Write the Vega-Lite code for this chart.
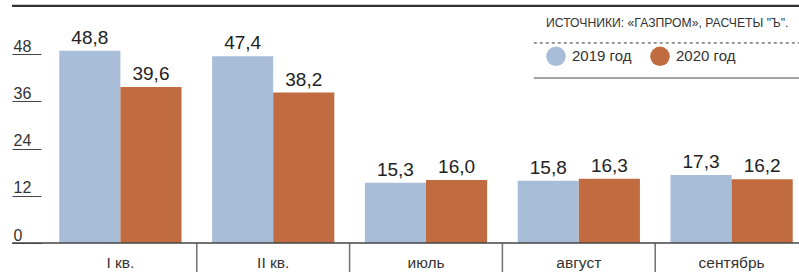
{
  "$schema": "https://vega.github.io/schema/vega-lite/v6.json",
  "width": 787,
  "height": 189,
  "autosize": "none",
  "padding": {"left": 12, "top": 54, "right": 0, "bottom": 29},
  "background": "#ffffff",
  "config": {
    "view": {"stroke": null},
    "locale": {"number": {"decimal": ",", "thousands": " ", "grouping": [3], "currency": ["", ""]}}
  },
  "datasets": {
    "bars": [
      {"period": "I кв.", "year": "2019 год", "value": 48.8},
      {"period": "I кв.", "year": "2020 год", "value": 39.6},
      {"period": "II кв.", "year": "2019 год", "value": 47.4},
      {"period": "II кв.", "year": "2020 год", "value": 38.2},
      {"period": "июль", "year": "2019 год", "value": 15.3},
      {"period": "июль", "year": "2020 год", "value": 16.0},
      {"period": "август", "year": "2019 год", "value": 15.8},
      {"period": "август", "year": "2020 год", "value": 16.3},
      {"period": "сентябрь", "year": "2019 год", "value": 17.3},
      {"period": "сентябрь", "year": "2020 год", "value": 16.2}
    ],
    "seps": [
      {"period": "II кв."},
      {"period": "июль"},
      {"period": "август"},
      {"period": "сентябрь"}
    ],
    "frame": [
      {"a": 0.663, "b": 1, "level": 50.8, "kind": "dashed"},
      {"a": 0.663, "b": 1, "level": 41.9, "kind": "solid"}
    ],
    "one": [{"n": 1}]
  },
  "resolve": {"scale": {"x": "independent"}},
  "layer": [
    {
      "layer": [
        {
          "data": {"name": "bars"},
          "mark": {"type": "bar"},
          "encoding": {
            "x": {
              "field": "period", "type": "nominal", "sort": null,
              "scale": {"domain": ["I кв.", "II кв.", "июль", "август", "сентябрь"], "range": [32, 796], "paddingInner": 0.2, "paddingOuter": 0.1},
              "axis": {
                "title": null, "domain": false, "ticks": false, "labelAngle": 0,
                "labelFont": "Liberation Sans, Arial, sans-serif",
                "labelFontSize": 15.5, "labelColor": "#333333",
                "labelBaseline": "alphabetic", "labelPadding": 24
              }
            },
            "y": {
              "field": "value", "type": "quantitative",
              "scale": {"domain": [0, 48], "nice": false},
              "axis": {
                "title": null, "domain": false, "grid": false, "values": [0, 12, 24, 36, 48],
                "offset": -29, "tickSize": 29, "tickColor": "#444444", "tickWidth": 1,
                "labelAlign": "left", "labelPadding": -1, "labelBaseline": "alphabetic", "labelOffset": -3,
                "labelFont": "Liberation Sans, Arial, sans-serif",
                "labelFontSize": 16, "labelColor": "#333333"
              }
            },
            "xOffset": {"field": "year", "type": "nominal", "scale": {"paddingInner": 0, "paddingOuter": 0}},
            "color": {
              "field": "year", "type": "nominal",
              "scale": {"domain": ["2019 год", "2020 год"], "range": ["#a8bed8", "#c06c40"]},
              "legend": {
                "orient": "none", "legendX": 534, "legendY": -37, "direction": "horizontal",
                "title": "ИСТОЧНИКИ: «ГАЗПРОМ», РАСЧЕТЫ \"Ъ\".",
                "titleFont": "Liberation Sans, Arial, sans-serif",
                "titleFontSize": 12.2, "titleFontWeight": "normal", "titleColor": "#333333",
                "titlePadding": 17, "titleLimit": 400, "titleAnchor": "start",
                "symbolType": "circle", "symbolSize": 380, "symbolStrokeWidth": 0, "symbolOpacity": 1,
                "labelFont": "Liberation Sans, Arial, sans-serif",
                "labelFontSize": 15, "labelColor": "#333333", "labelOffset": 6,
                "columnPadding": 18
              }
            }
          }
        },
        {
          "data": {"name": "bars"},
          "mark": {"type": "text", "baseline": "alphabetic", "dy": -7,
                   "font": "Liberation Sans, Arial, sans-serif", "fontSize": 19, "color": "#222222"},
          "encoding": {
            "x": {"field": "period", "type": "nominal", "sort": null},
            "xOffset": {"field": "year", "type": "nominal"},
            "y": {"field": "value", "type": "quantitative"},
            "text": {"field": "value", "type": "quantitative", "format": ".1f"}
          }
        },
        {
          "data": {"name": "seps"},
          "mark": {"type": "rule", "color": "#707070", "strokeWidth": 1.5, "xOffset": -15.28},
          "encoding": {
            "x": {"field": "period", "type": "nominal", "sort": null, "bandPosition": 0},
            "y": {"datum": 0, "type": "quantitative"},
            "y2": {"datum": -7.37}
          }
        }
      ]
    },
    {
      "data": {"name": "one"},
      "mark": {"type": "rule", "color": "#444444", "strokeWidth": 1.5},
      "encoding": {"y": {"datum": 0, "type": "quantitative"}}
    },
    {
      "data": {"name": "one"},
      "mark": {"type": "rule", "color": "#333333", "strokeWidth": 2.2},
      "encoding": {"y": {"datum": 60.2, "type": "quantitative"}}
    },
    {
      "data": {"name": "frame"},
      "mark": {"type": "rule", "strokeWidth": 1},
      "encoding": {
        "x": {"field": "a", "type": "quantitative", "scale": {"domain": [0, 1], "nice": false, "zero": false}, "axis": null},
        "x2": {"field": "b"},
        "y": {"field": "level", "type": "quantitative"},
        "strokeDash": {"field": "kind", "type": "nominal", "scale": {"domain": ["dashed", "solid"], "range": [[3, 3], [1, 0]]}, "legend": null},
        "color": {"value": "#333333"}
      }
    }
  ]
}
